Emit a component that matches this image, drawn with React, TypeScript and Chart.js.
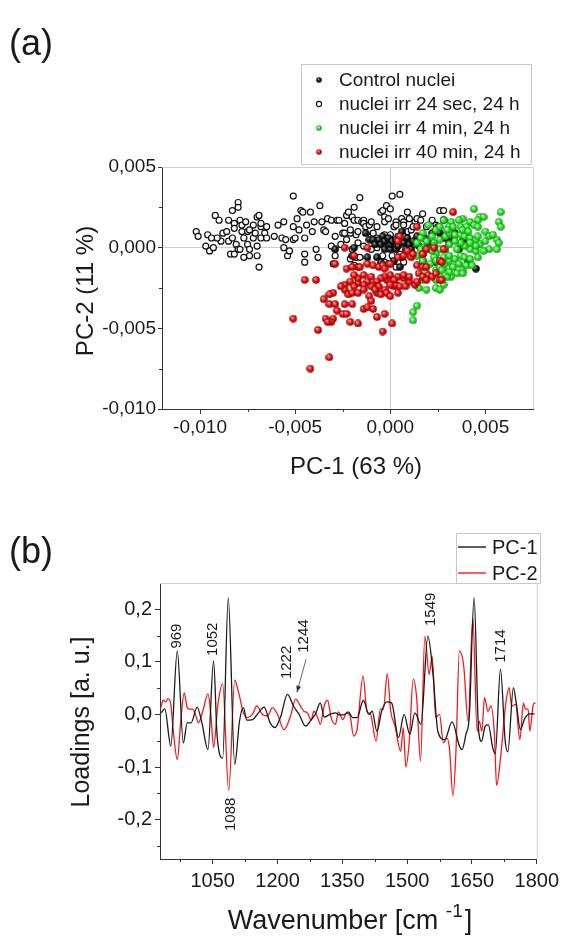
import React, { useEffect, useRef } from 'react';
import { Chart, registerables } from 'chart.js';

Chart.register(...registerables);

const FONT = '"Liberation Sans", Arial, Helvetica, sans-serif';

// ---------- Panel (a): PCA scores, values read in units of 10^-3 : [PC-1, PC-2] ----------
const MILLI = 0.001;

const CONTROL_SCORES: [number, number][] = [
  [-2.9, -0.1], [-2.0, -0.5], [-1.9, 0.0], [-1.3, 0.9], [-1.1, 0.5], [-0.9, 0.5], [-0.8, 0.2], [-0.7, -0.6],
  [-0.6, 0.5], [-0.5, 0.2], [-0.4, 0.7], [-0.3, -0.1], [-0.3, 0.4], [-0.1, 0.6], [0.0, -0.1], [0.0, 0.2],
  [0.1, 0.4], [0.3, -0.1], [0.3, 0.5], [0.4, 0.1], [0.6, 1.0], [0.6, -0.6], [0.7, 0.3], [0.8, -0.1],
  [0.9, 0.6], [1.0, 0.2], [1.1, -0.1], [1.2, 0.4], [1.4, 0.7], [1.5, 0.1], [1.7, -0.4], [1.8, 0.6],
  [2.0, 0.3], [2.2, 0.9], [2.4, 1.1], [2.5, 1.3], [2.6, 0.9], [2.8, 0.6], [2.9, -0.1], [3.1, 0.3],
  [3.2, 0.6], [3.4, 0.9], [3.6, -0.1], [3.8, 0.4], [4.1, -0.8], [4.5, -1.3], [-1.2, -0.6], [0.2, -0.8],
  [0.5, -1.2], [-0.5, -0.9], [1.7, -0.8], [2.4, -0.9], [2.8, 1.7],
];

const SEC24_SCORES: [number, number][] = [
  [-10.2, 1.0], [-10.1, 0.7], [-9.6, 0.8], [-9.7, 0.1], [-9.5, -0.2], [-9.3, 0.0], [-9.2, 2.0], [-9.0, 1.7],
  [-8.8, 0.9], [-8.9, 0.4], [-8.6, 1.0], [-8.5, 1.7], [-8.5, 0.4], [-8.3, 2.3], [-8.2, 1.5], [-8.3, 0.6],
  [-8.2, 1.2], [-8.1, 0.2], [-8.0, 2.8], [-8.0, 2.5], [-7.9, 1.7], [-7.8, 1.0], [-7.8, 1.4], [-7.7, 0.6],
  [-7.6, 1.6], [-7.5, 0.2], [-7.5, 1.0], [-7.4, 1.1], [-7.4, -0.1], [-7.2, 1.4], [-7.2, 0.6], [-7.1, 0.9],
  [-7.0, 1.9], [-7.0, 0.1], [-7.0, -0.5], [-6.9, 2.0], [-6.8, 1.3], [-6.8, 1.5], [-6.8, 0.6], [-6.6, 0.9],
  [-6.5, 1.3], [-6.5, 0.6], [-6.9, -1.2], [-8.4, -0.4], [-8.2, -0.4], [-7.7, -0.6], [-7.4, -0.5], [-9.1, 0.6],
  [-9.4, 0.6], [-8.0, -0.1], [-7.9, -0.1],
  [-6.1, 0.7], [-5.9, 1.4], [-5.7, 0.6], [-5.6, 1.6], [-5.5, 0.5], [-5.6, 0.0], [-5.4, -0.5], [-5.3, -0.2],
  [-5.1, 0.5], [-5.1, 1.3], [-5.1, 3.2], [-4.9, 1.8], [-5.0, 0.6], [-4.8, 1.1], [-4.7, 2.3], [-4.6, 2.2],
  [-4.5, 0.6], [-4.5, -0.9], [-4.5, -0.4], [-4.4, 1.4], [-4.2, 2.2], [-4.1, 1.0], [-4.0, 1.6], [-3.9, -0.1],
  [-3.8, -0.6], [-3.7, 2.6], [-3.6, 1.6], [-3.5, 1.1], [-3.4, 1.0], [-3.3, 1.8], [-3.1, 1.7], [-3.1, 0.1],
  [-3.0, -1.0], [-2.9, -0.5], [-2.8, 1.7], [-2.7, 1.7], [-2.5, 0.9], [-2.4, 0.9], [-2.4, 1.5], [-2.3, 2.0],
  [-2.2, 2.2], [-2.1, 0.9], [-2.1, 1.1], [-2.0, 1.9], [-1.9, 1.7], [-1.9, 2.5], [-1.8, -0.6], [-1.8, 0.8],
  [-1.7, 1.7], [-1.7, 1.0], [-1.6, 3.1], [-1.5, 1.6], [-1.4, 1.7], [-1.4, 1.5], [-1.3, 1.3], [-1.1, 1.4],
  [-1.0, 0.7], [-1.0, 1.6], [-0.9, 0.9], [-0.7, 1.3], [-0.7, 0.6], [-0.5, 2.2], [-0.4, 2.3], [-0.3, 1.9],
  [-0.3, 1.6], [-0.2, 2.6], [-0.1, 1.8], [0.0, 2.4], [0.0, 0.8], [0.1, 3.2], [0.2, 1.3], [0.3, 1.6],
  [0.3, 1.4], [0.5, 3.3], [0.6, 1.8], [0.7, 1.6], [0.7, 1.4], [0.9, 1.0], [0.9, 2.2], [1.0, 1.8],
  [1.1, 1.1], [1.3, 1.6], [1.4, 1.8], [1.6, 1.7], [1.7, 2.1], [2.2, 1.7], [2.6, 2.3], [2.8, 2.3],
  [1.9, 1.3], [2.4, 1.4], [0.3, 0.1], [0.1, -0.5], [-0.4, -0.5], [-0.3, -0.9], [-0.1, -1.0], [0.7, -0.9],
  [0.5, -0.4], [0.3, -1.2], [-0.5, 0.5], [-0.3, 0.8], [-0.1, 0.2], [0.1, 0.4], [0.4, 0.7], [0.7, 0.7],
  [0.9, 0.4], [1.1, 0.1], [1.2, 1.3], [-0.7, 0.0], [-1.0, -0.1], [-1.4, 0.1], [-1.7, 0.3], [-2.1, -0.7],
  [-2.6, 0.2], [-2.9, 0.7], [-2.3, 0.5], [-2.0, -0.1], [-1.6, -0.6], [-1.9, -1.1],
];

const MIN4_SCORES: [number, number][] = [
  [4.4, 2.4], [5.8, 2.2], [5.7, 1.6], [5.8, 1.3], [4.7, 1.9], [4.9, 1.9], [4.6, 1.7], [4.2, 1.6],
  [3.8, 1.8], [3.6, 1.7], [3.2, 1.6], [2.8, 1.7], [3.1, 1.3], [3.3, 1.3], [3.7, 1.3], [4.0, 1.3],
  [4.4, 1.4], [4.6, 1.3], [5.0, 1.0], [5.2, 0.7], [5.6, 0.5], [5.7, 0.3], [5.6, -0.1], [5.4, 0.8],
  [2.4, 1.1], [2.2, 0.7], [1.9, 0.4], [1.7, 0.0], [1.6, -0.1], [1.4, -0.5], [1.7, -0.8], [2.0, -0.1],
  [2.3, 0.3], [2.6, 0.5], [2.9, 0.7], [3.1, 0.9], [3.4, 0.8], [3.7, 0.8], [3.9, 0.7], [4.2, 0.6],
  [4.5, 0.5], [4.7, 0.2], [4.2, -0.1], [3.9, 0.1], [3.7, 0.3], [3.4, 0.4], [3.1, 0.2], [2.9, -0.1],
  [2.6, -0.1], [2.4, -0.4], [2.3, -0.6], [2.1, -1.0], [2.4, -1.4], [2.6, -1.2], [2.9, -1.0], [3.1, -0.8],
  [3.4, -0.7], [3.7, -0.5], [3.9, -0.6], [4.2, -0.7], [4.5, -0.2], [4.6, -0.6], [3.1, -1.3], [3.3, -1.2],
  [3.6, -1.0], [3.8, -1.4], [3.5, -1.6], [3.2, -1.8], [3.0, -1.8], [2.6, -1.8], [2.4, -2.0], [2.8, -2.3],
  [1.9, -1.6], [1.7, -2.0], [1.4, -2.2], [1.5, -2.5], [1.9, -2.6], [2.4, -2.5], [2.6, -2.6], [3.1, -1.5],
  [4.0, -1.1], [3.8, -1.6], [4.3, -1.1], [4.5, 0.1], [5.0, 0.4], [5.2, -0.1], [4.9, -0.2], [1.4, -3.6],
  [1.2, -4.0], [1.2, -4.5], [2.3, 0.1], [2.8, -0.6], [3.1, -0.5], [3.5, -0.1], [3.8, 1.1], [4.1, 1.0],
  [2.6, 1.3], [3.0, 1.1], [1.7, 0.9], [2.0, 1.4], [1.6, 0.6], [1.4, 0.3], [2.2, -0.2], [2.4, -0.8],
  [2.7, -1.4], [4.2, 0.3], [4.6, 0.7],
];

const MIN40_SCORES: [number, number][] = [
  [3.3, 2.2], [1.4, 1.3], [0.5, 0.7], [0.4, 0.4], [-1.2, 0.0], [-2.4, 0.0], [-2.9, -1.0], [-1.9, -0.5],
  [-2.3, -1.3], [-1.7, -1.2], [-1.6, -1.2], [-1.2, -1.0], [-0.9, -1.1], [-0.6, -1.2], [-0.4, -1.1], [-0.3, -1.3],
  [0.0, -1.0], [0.4, -0.6], [0.7, -0.5], [0.9, -0.2], [1.1, -0.6], [1.2, -0.4], [1.4, -1.1], [1.5, -1.6],
  [1.7, -1.2], [1.9, -1.2], [2.0, -1.7], [2.6, -0.8], [2.7, -0.9], [2.8, -0.1], [2.6, -2.0], [0.0, -1.7],
  [-0.2, -2.0], [-0.3, -1.8], [-0.5, -1.9], [-0.7, -2.1], [-0.9, -2.3], [-1.0, -2.4], [-1.2, -2.1], [-1.4, -2.3],
  [-1.7, -2.2], [-1.7, -1.9], [-1.9, -1.7], [-2.1, -2.1], [-2.4, -2.3], [-2.4, -2.6], [-2.2, -2.9], [-2.0, -2.8],
  [-1.7, -2.8], [-1.4, -2.6], [-1.1, -3.0], [-1.0, -3.3], [-0.7, -2.8], [-0.5, -2.9], [-0.3, -2.6], [-0.2, -2.8],
  [0.0, -3.0], [0.2, -2.4], [0.3, -2.3], [0.5, -2.4], [0.8, -2.4], [1.0, -2.1], [1.3, -2.3], [0.7, -1.9],
  [0.4, -1.8], [0.2, -2.0], [-0.6, -2.4], [-0.8, -2.6], [-1.9, -2.4], [-2.6, -2.4], [-3.0, -2.8], [-3.2, -2.9],
  [-3.5, -3.2], [-3.2, -3.5], [-2.9, -3.5], [-2.4, -3.5], [-2.0, -3.5], [-2.8, -3.9], [-2.5, -4.1], [-2.3, -4.1],
  [-3.0, -4.4], [-3.1, -4.6], [-3.4, -4.4], [-3.3, -4.6], [-2.1, -4.6], [-1.7, -4.7], [-1.4, -3.8], [-1.2, -3.7],
  [-0.9, -3.8], [-0.7, -4.3], [-0.3, -4.1], [0.1, -4.7], [-0.4, -5.2], [-3.8, -5.1], [-5.1, -4.4], [-4.5, -2.0],
  [-3.9, -2.0], [-3.2, -6.8], [-4.2, -7.5], [0.7, -1.7], [1.0, -1.8], [1.4, -2.1], [1.7, -1.8], [1.9, -2.0],
  [2.2, -1.8], [2.4, -1.6], [2.7, -2.0], [-2.0, -1.2], [-1.4, -1.7], [-1.0, -1.8], [0.0, -2.3], [0.4, -2.8],
  [1.7, -0.4], [1.9, -0.1], [2.3, 0.0],
];

const SCATTER_LEGEND = ['Control nuclei', 'nuclei irr 24 sec, 24 h', 'nuclei irr 4 min, 24 h', 'nuclei irr 40 min, 24 h'];
const A_X_TICKS = [-0.01, -0.005, 0, 0.005];
const A_X_MINOR = [-0.0075, -0.0025, 0.0025];
const A_Y_TICKS = [0.005, 0, -0.005, -0.01];
const A_Y_MINOR = [0.0025, -0.0025, -0.0075];

// ---------- Panel (b): loadings ----------
const PC1_WAVENUMBER = [
  931, 939, 953, 968, 982, 991, 1000, 1014, 1025, 1039, 1052, 1060, 1073, 1086, 1101, 1112, 1121, 1129, 1142,
  1155, 1169, 1183, 1194, 1207, 1223, 1237, 1250, 1265, 1278, 1288, 1299, 1308, 1321, 1334, 1344, 1353, 1364,
  1374, 1384, 1399, 1411, 1419, 1430, 1441, 1453, 1464, 1480, 1493, 1506, 1518, 1532, 1548, 1560, 1571, 1587,
  1604, 1621, 1627, 1636, 1644, 1655, 1665, 1672, 1681, 1688, 1698, 1704, 1716, 1727, 1733, 1746, 1753, 1762,
  1772, 1784, 1795,
];
const PC1_LOADING = [
  0.003, 0.011, -0.060, 0.121, -0.054, -0.016, -0.016, 0.014, -0.016, -0.067, 0.102, -0.038, -0.083, 0.221, -0.095, -0.013, 0.013, -0.011, -0.010,
  0.002, 0.014, -0.016, -0.025, -0.005, 0.038, 0.016, 0.000, -0.022, -0.010, 0.001, 0.022, -0.005, 0.000, 0.003, -0.001, -0.001, 0.005,
  -0.006, -0.006, 0.027, 0.000, 0.006, -0.032, 0.006, 0.024, 0.022, -0.044, 0.000, -0.038, 0.003, -0.019, 0.149, 0.076, -0.032, -0.048,
  -0.014, -0.060, -0.067, -0.038, -0.003, 0.222, -0.025, -0.051, -0.022, -0.020, -0.063, -0.075, 0.086, -0.051, -0.071, 0.051, 0.019, -0.029,
  -0.008, 0.001, 0.001,
];
const PC2_WAVENUMBER = [
  930, 935, 941, 947, 953, 958, 968, 976, 984, 991, 997, 1004, 1010, 1017, 1027, 1039, 1046, 1052, 1062, 1073,
  1087, 1101, 1111, 1121, 1130, 1142, 1152, 1165, 1177, 1188, 1200, 1215, 1229, 1242, 1253, 1261, 1269, 1278,
  1284, 1293, 1299, 1308, 1316, 1324, 1334, 1341, 1351, 1360, 1368, 1376, 1384, 1398, 1407, 1415, 1428, 1438,
  1445, 1454, 1462, 1472, 1485, 1491, 1497, 1505, 1514, 1522, 1531, 1541, 1551, 1558, 1566, 1575, 1584, 1592,
  1598, 1606, 1613, 1621, 1631, 1641, 1652, 1662, 1667, 1673, 1679, 1687, 1694, 1702, 1707, 1717, 1728, 1736,
  1742, 1751, 1761, 1769, 1774, 1780, 1784, 1792, 1797,
];
const PC2_LOADING = [
  0.013, 0.027, 0.024, 0.030, 0.019, -0.025, -0.086, -0.013, 0.041, 0.013, 0.010, 0.010, 0.000, -0.016, 0.006, 0.039, -0.003, -0.063, 0.019, 0.058,
  -0.145, 0.065, 0.038, 0.003, -0.006, 0.000, 0.016, 0.000, -0.003, 0.013, 0.000, -0.029, -0.006, 0.029, 0.016, 0.006, 0.003, -0.011,
  0.006, -0.006, -0.019, 0.016, 0.027, -0.006, -0.019, 0.005, -0.010, 0.003, -0.003, -0.041, -0.029, 0.073, 0.006, 0.001, -0.051, 0.010,
  0.010, 0.077, 0.006, -0.022, -0.070, -0.025, -0.100, -0.051, 0.067, 0.032, -0.089, 0.149, 0.076, 0.111, -0.006, 0.000, -0.054, -0.045,
  -0.065, -0.155, -0.070, 0.121, 0.092, -0.013, 0.184, -0.032, -0.013, -0.032, 0.032, 0.006, 0.016, -0.038, -0.135, -0.076, 0.019, 0.051,
  0.016, 0.019, -0.048, 0.022, 0.010, 0.010, -0.032, 0.019, 0.022,
];
const LOADING_SERIES = ['PC-1', 'PC-2'];
const B_X_TICKS = [1050, 1200, 1350, 1500, 1650, 1800];
const B_X_MINOR = [975, 1125, 1275, 1425, 1575, 1725];
const B_Y_TICKS = [0.2, 0.1, 0, -0.1, -0.2];
const B_Y_MINOR = [0.15, 0.05, -0.05, -0.15, -0.25];

// Peak labels: text, wavenumber, loading at label centre
const PEAK_LABELS = ['969', '1052', '1222', '1244', '1549', '1714', '1088'];
const PEAK_LABEL_W = [967, 1050, 1222, 1261, 1555, 1717, 1091];
const PEAK_LABEL_L = [0.149, 0.143, 0.099, 0.149, 0.2, 0.13, -0.19];
const ARROW_FROM = [1266, 0.105];
const ARROW_TO = [1245, 0.042];

const INK = '#1a1a1a';
const RED = '#ee1c1c';

function makeSphere(light: string, base: string, dark: string, size: number) {
  const c = document.createElement('canvas');
  c.width = size;
  c.height = size;
  const g = c.getContext('2d')!;
  const r = size / 2 - 0.2;
  const grad = g.createRadialGradient(size * 0.36, size * 0.33, 0.2, size / 2, size / 2, r);
  grad.addColorStop(0, light);
  grad.addColorStop(0.5, base);
  grad.addColorStop(1, dark);
  g.fillStyle = grad;
  g.beginPath();
  g.arc(size / 2, size / 2, r, 0, Math.PI * 2);
  g.fill();
  return c;
}

const fmtComma = (v: number, d: number) => v.toFixed(d).replace('.', ',');

function drawMinor(chart: any, xs: number[], ys: number[], len: number) {
  const { ctx, chartArea, scales } = chart;
  ctx.save();
  ctx.strokeStyle = '#333';
  ctx.lineWidth = 1;
  ctx.beginPath();
  xs.forEach((v) => {
    const p = Math.round(scales.x.getPixelForValue(v)) + 0.5;
    ctx.moveTo(p, chartArea.bottom);
    ctx.lineTo(p, chartArea.bottom + len);
  });
  ys.forEach((v) => {
    const p = Math.round(scales.y.getPixelForValue(v)) + 0.5;
    ctx.moveTo(chartArea.left, p);
    ctx.lineTo(chartArea.left - len, p);
  });
  ctx.stroke();
  // light frame on top & right
  ctx.strokeStyle = '#cfcfcf';
  ctx.beginPath();
  ctx.moveTo(chartArea.left, chartArea.top + 0.5);
  ctx.lineTo(chartArea.right + 0.5, chartArea.top + 0.5);
  ctx.lineTo(chartArea.right + 0.5, chartArea.bottom);
  ctx.stroke();
  ctx.restore();
}

function rotatedText(ctx: CanvasRenderingContext2D, text: string, x: number, y: number) {
  ctx.save();
  ctx.translate(x, y);
  ctx.rotate(-Math.PI / 2);
  ctx.textAlign = 'center';
  ctx.textBaseline = 'middle';
  ctx.fillText(text, 0, 0);
  ctx.restore();
}

export default function App() {
  const refA = useRef<HTMLCanvasElement>(null);
  const refB = useRef<HTMLCanvasElement>(null);

  useEffect(() => {
    document.body.style.margin = '0';
    document.body.style.overflow = 'hidden';
    Chart.defaults.font.family = FONT;

    const sphereBlack = makeSphere('#a0a0a0', '#1a1a1a', '#000000', 8);
    const sphereGreen = makeSphere('#d8ffd8', '#2ee82e', '#139013', 8);
    const sphereRed = makeSphere('#ffc0c0', '#f01414', '#8a0000', 8);
    const legBlack = makeSphere('#a0a0a0', '#1a1a1a', '#000000', 6);
    const legGreen = makeSphere('#d8ffd8', '#2ee82e', '#139013', 6);
    const legRed = makeSphere('#ffc0c0', '#f01414', '#8a0000', 6);

    const toPts = (arr: [number, number][]) => arr.map(([x, y]) => ({ x: x * MILLI, y: y * MILLI }));

    const pluginA = {
      id: 'decorA',
      afterDraw(chart: any) {
        const ctx: CanvasRenderingContext2D = chart.ctx;
        drawMinor(chart, A_X_MINOR, A_Y_MINOR, 3);
        ctx.save();
        ctx.fillStyle = INK;
        ctx.font = `36px ${FONT}`;
        ctx.textAlign = 'left';
        ctx.textBaseline = 'alphabetic';
        ctx.fillText('(a)', 9, 55);
        ctx.font = `24px ${FONT}`;
        rotatedText(ctx, 'PC-2 (11 %)', 86, 291);
        ctx.textAlign = 'center';
        ctx.textBaseline = 'middle';
        ctx.fillText('PC-1 (63 %)', 356, 467);
        // legend
        ctx.strokeStyle = '#c8c8c8';
        ctx.lineWidth = 1;
        ctx.strokeRect(301.5, 64.5, 230, 100);
        const rows = [80, 104, 128, 152];
        ctx.font = `19px ${FONT}`;
        ctx.textAlign = 'left';
        SCATTER_LEGEND.forEach((t, i) => {
          const y = rows[i];
          if (i === 1) {
            ctx.beginPath();
            ctx.arc(319, y, 2.6, 0, Math.PI * 2);
            ctx.fillStyle = '#fff';
            ctx.fill();
            ctx.strokeStyle = '#111';
            ctx.lineWidth = 1.1;
            ctx.stroke();
          } else {
            const img = i === 0 ? legBlack : i === 2 ? legGreen : legRed;
            ctx.drawImage(img, 316, y - 3);
          }
          ctx.fillStyle = INK;
          ctx.fillText(t, 339, y + 1);
        });
        ctx.restore();
      },
    };

    const zeroGrid = (c: any) => (c.tick && Math.abs(c.tick.value) < 1e-12 ? '#cdcdcd' : 'rgba(0,0,0,0)');

    const chartA = new Chart(refA.current!, {
      type: 'scatter',
      data: {
        datasets: [
          {
            label: SCATTER_LEGEND[1],
            data: toPts(SEC24_SCORES),
            pointStyle: 'circle',
            pointRadius: 3,
            pointBorderWidth: 1.2,
            pointBorderColor: '#111',
            pointBackgroundColor: 'rgba(255,255,255,0.9)',
            order: 4,
          },
          {
            label: SCATTER_LEGEND[0],
            data: toPts(CONTROL_SCORES),
            pointStyle: sphereBlack as any,
            pointRadius: 4,
            order: 3,
          },
          {
            label: SCATTER_LEGEND[2],
            data: toPts(MIN4_SCORES),
            pointStyle: sphereGreen as any,
            pointRadius: 4,
            order: 2,
          },
          {
            label: SCATTER_LEGEND[3],
            data: toPts(MIN40_SCORES),
            pointStyle: sphereRed as any,
            pointRadius: 4,
            order: 1,
          },
        ],
      },
      plugins: [pluginA],
      options: {
        responsive: false,
        animation: false,
        layout: { padding: { left: 0, right: 31, top: 167, bottom: 0 } },
        plugins: { legend: { display: false }, tooltip: { enabled: false } },
        scales: {
          x: {
            type: 'linear',
            min: -0.012,
            max: 0.0075,
            afterBuildTicks: (s: any) => {
              s.ticks = A_X_TICKS.map((v) => ({ value: v }));
            },
            afterFit: (s: any) => {
              s.height = 81;
            },
            ticks: {
              callback: (v: any) => fmtComma(Number(v), 3),
              font: { size: 19, family: FONT },
              color: INK,
              padding: 2,
              maxRotation: 0,
              autoSkip: false,
            },
            grid: { color: zeroGrid, tickColor: '#333', tickLength: 5, lineWidth: 1 },
            border: { color: '#333', width: 1 },
          },
          y: {
            type: 'linear',
            min: -0.01,
            max: 0.005,
            afterBuildTicks: (s: any) => {
              s.ticks = A_Y_TICKS.map((v) => ({ value: v }));
            },
            afterFit: (s: any) => {
              s.width = 162;
            },
            ticks: {
              callback: (v: any) => fmtComma(Number(v), 3),
              font: { size: 19, family: FONT },
              color: INK,
              padding: 2,
              autoSkip: false,
            },
            grid: { color: zeroGrid, tickColor: '#333', tickLength: 4, lineWidth: 1 },
            border: { color: '#333', width: 1 },
          },
        },
      } as any,
    });

    const pluginB = {
      id: 'decorB',
      afterDraw(chart: any) {
        const ctx: CanvasRenderingContext2D = chart.ctx;
        const { scales } = chart;
        drawMinor(chart, B_X_MINOR, B_Y_MINOR, 3);
        ctx.save();
        ctx.fillStyle = INK;
        ctx.font = `36px ${FONT}`;
        ctx.textAlign = 'left';
        ctx.textBaseline = 'alphabetic';
        ctx.fillText('(b)', 9, 73);
        // y title
        ctx.font = `25px ${FONT}`;
        rotatedText(ctx, 'Loadings [a. u.]', 82, 232);
        // x title with superscript
        const main = 'Wavenumber [cm ';
        const sup = '-1';
        const end = ']';
        ctx.font = `27px ${FONT}`;
        const w1 = ctx.measureText(main).width;
        const w3 = ctx.measureText(end).width;
        ctx.font = `19px ${FONT}`;
        const w2 = ctx.measureText(sup).width;
        const total = w1 + w2 + 2 + w3;
        const x0 = 350 - total / 2;
        const base = 439;
        ctx.font = `27px ${FONT}`;
        ctx.fillText(main, x0, base);
        ctx.font = `19px ${FONT}`;
        ctx.fillText(sup, x0 + w1, base - 12);
        ctx.font = `27px ${FONT}`;
        ctx.fillText(end, x0 + w1 + w2 + 2, base);
        // peak labels
        ctx.font = `15px ${FONT}`;
        PEAK_LABELS.forEach((t, i) => {
          rotatedText(ctx, t, scales.x.getPixelForValue(PEAK_LABEL_W[i]), scales.y.getPixelForValue(PEAK_LABEL_L[i]));
        });
        // arrow
        const ax1 = scales.x.getPixelForValue(ARROW_FROM[0]);
        const ay1 = scales.y.getPixelForValue(ARROW_FROM[1]);
        const ax2 = scales.x.getPixelForValue(ARROW_TO[0]);
        const ay2 = scales.y.getPixelForValue(ARROW_TO[1]);
        ctx.strokeStyle = '#555';
        ctx.lineWidth = 0.9;
        ctx.beginPath();
        ctx.moveTo(ax1, ay1);
        ctx.lineTo(ax2, ay2);
        ctx.stroke();
        const ang = Math.atan2(ay2 - ay1, ax2 - ax1);
        ctx.fillStyle = '#333';
        ctx.beginPath();
        ctx.moveTo(ax2, ay2);
        ctx.lineTo(ax2 - 7 * Math.cos(ang - 0.35), ay2 - 7 * Math.sin(ang - 0.35));
        ctx.lineTo(ax2 - 7 * Math.cos(ang + 0.35), ay2 - 7 * Math.sin(ang + 0.35));
        ctx.closePath();
        ctx.fill();
        // legend
        ctx.strokeStyle = '#c8c8c8';
        ctx.lineWidth = 1;
        ctx.strokeRect(456.5, 43.5, 84, 50);
        const rows = [57, 83];
        const cols = [INK, RED];
        ctx.font = `20px ${FONT}`;
        ctx.textBaseline = 'middle';
        LOADING_SERIES.forEach((t, i) => {
          ctx.strokeStyle = cols[i];
          ctx.lineWidth = 1.4;
          ctx.beginPath();
          ctx.moveTo(458, rows[i]);
          ctx.lineTo(486, rows[i]);
          ctx.stroke();
          ctx.fillStyle = INK;
          ctx.fillText(t, 492, rows[i] + 1);
        });
        ctx.restore();
      },
    };

    const chartB = new Chart(refB.current!, {
      type: 'line',
      data: {
        datasets: [
          {
            label: LOADING_SERIES[0],
            data: PC1_WAVENUMBER.map((w, i) => ({ x: w, y: PC1_LOADING[i] })),
            borderColor: INK,
            borderWidth: 1.3,
            pointRadius: 0,
            cubicInterpolationMode: 'monotone',
          },
          {
            label: LOADING_SERIES[1],
            data: PC2_WAVENUMBER.map((w, i) => ({ x: w, y: PC2_LOADING[i] })),
            borderColor: RED,
            borderWidth: 1.3,
            pointRadius: 0,
            cubicInterpolationMode: 'monotone',
          },
        ],
      },
      plugins: [pluginB],
      options: {
        responsive: false,
        animation: false,
        layout: { padding: { left: 0, right: 24, top: 93, bottom: 0 } },
        plugins: { legend: { display: false }, tooltip: { enabled: false } },
        scales: {
          x: {
            type: 'linear',
            min: 928,
            max: 1800,
            afterBuildTicks: (s: any) => {
              s.ticks = B_X_TICKS.map((v) => ({ value: v }));
            },
            afterFit: (s: any) => {
              s.height = 78;
            },
            ticks: {
              callback: (v: any) => String(v),
              font: { size: 20, family: FONT },
              color: INK,
              padding: 5,
              maxRotation: 0,
              autoSkip: false,
            },
            grid: { drawOnChartArea: false, tickColor: '#333', tickLength: 5 },
            border: { color: '#333', width: 1 },
          },
          y: {
            type: 'linear',
            min: -0.275,
            max: 0.25,
            afterBuildTicks: (s: any) => {
              s.ticks = B_Y_TICKS.map((v) => ({ value: v }));
            },
            afterFit: (s: any) => {
              s.width = 160;
            },
            ticks: {
              callback: (v: any) => fmtComma(Number(v), 1),
              font: { size: 20, family: FONT },
              color: INK,
              padding: 3,
              autoSkip: false,
            },
            grid: { drawOnChartArea: false, tickColor: '#333', tickLength: 5 },
            border: { color: '#333', width: 1 },
          },
        },
      } as any,
    });

    return () => {
      chartA.destroy();
      chartB.destroy();
    };
  }, []);

  return (
    <div style={{ position: 'relative', width: 564, height: 937, background: '#fff', overflow: 'hidden' }}>
      <canvas ref={refA} width={564} height={490} style={{ position: 'absolute', left: 0, top: 0 }} />
      <canvas ref={refB} width={564} height={447} style={{ position: 'absolute', left: 0, top: 490 }} />
    </div>
  );
}
